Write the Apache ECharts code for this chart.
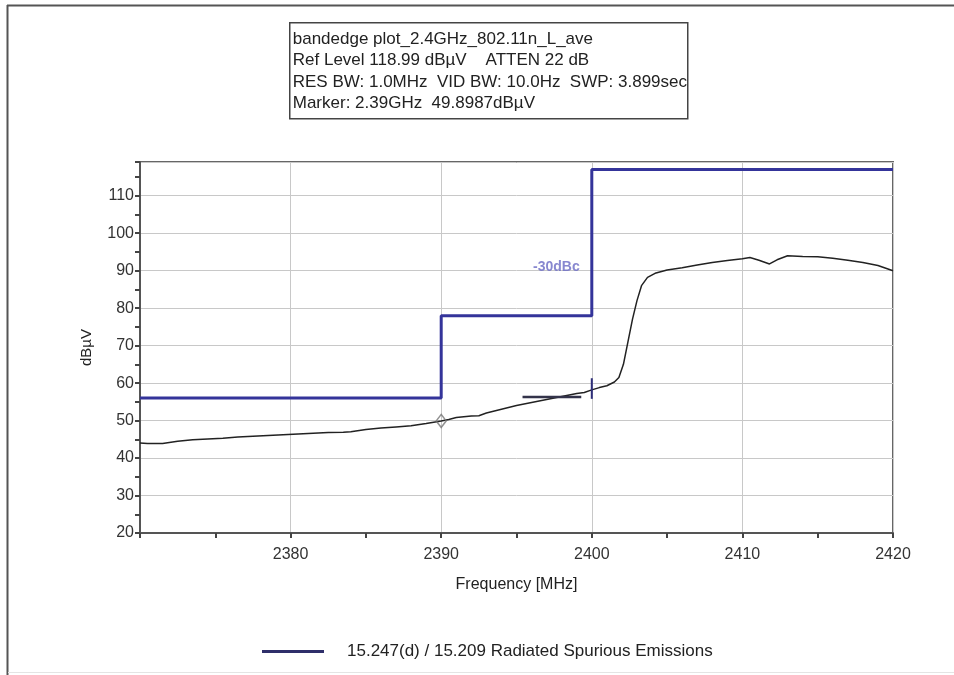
<!DOCTYPE html>
<html>
<head>
<meta charset="utf-8">
<script src="https://cdn.jsdelivr.net/npm/echarts@6/dist/echarts.min.js"></script>
<style>
html,body{margin:0;padding:0;background:#fff;}
#chart{width:954px;height:675px;}
</style>
</head>
<body>
<div id="chart"></div>
<script>
// ---- data ----
const headerLines = [
  'bandedge plot_2.4GHz_802.11n_L_ave',
  'Ref Level 118.99 dBµV    ATTEN 22 dB',
  'RES BW: 1.0MHz  VID BW: 10.0Hz  SWP: 3.899sec',
  'Marker: 2.39GHz  49.8987dBµV'
];
const xName = 'Frequency [MHz]';
const yName = 'dBµV';
const legendName = '15.247(d) / 15.209 Radiated Spurious Emissions';
const limitLabel = '-30dBc';
const limitLabelPos = [2399.2, 91];

const xRange = [2370, 2420];
const yRange = [20, 119];

const limitFreq = [2370, 2390, 2390, 2400, 2400, 2420];
const limitLevel = [56, 56, 78, 78, 117, 117];

const traceFreq = [2370.0,2370.5,2371.5,2372.5,2373.5,2374.5,2375.5,2376.5,2377.5,2378.5,2379.5,2380.5,2381.5,2382.5,2383.5,2384.0,2385.0,2386.0,2387.0,2388.0,2389.0,2390.0,2390.5,2391.0,2392.0,2392.5,2393.0,2394.0,2395.0,2396.0,2397.0,2398.0,2399.0,2399.5,2400.0,2400.5,2401.0,2401.5,2401.8,2402.1,2402.4,2402.7,2403.0,2403.3,2403.7,2404.2,2405.0,2406.0,2407.0,2408.0,2409.0,2410.0,2410.5,2411.1,2411.8,2412.3,2413.0,2414.0,2415.0,2416.0,2417.0,2418.0,2419.0,2420.0];
const traceLevel = [44.0,43.9,43.9,44.5,44.9,45.1,45.3,45.6,45.8,46.0,46.2,46.4,46.6,46.8,46.9,47.0,47.6,48.0,48.3,48.6,49.2,49.9,50.3,50.8,51.2,51.3,52.0,53.0,54.0,54.8,55.6,56.4,57.2,57.5,58.2,58.8,59.3,60.3,61.5,65.0,71.0,77.0,82.0,86.0,88.2,89.3,90.2,90.8,91.5,92.2,92.7,93.2,93.5,92.8,91.8,92.9,94.0,93.8,93.7,93.3,92.8,92.2,91.4,90.0];

const markerPoint = [2390, 49.9];
const deltaTickFreq = [2400, 2400];
const deltaTickLevel = [55.8, 61.3];
const refLineFreq = [2395.4, 2399.3];
const refLineLevel = [56.3, 56.3];

const zip = (a, b) => a.map((v, i) => [v, b[i]]);

// ---- chart ----
const chart = echarts.init(document.getElementById('chart'), null, {renderer: 'canvas'});
const FONT = '"Liberation Sans", Arial, sans-serif';

const option = {
  backgroundColor: '#fff',
  animation: false,
  textStyle: {fontFamily: FONT},
  grid: {left: 140, right: 61, top: 162, bottom: 142, show: true, borderColor: '#666', borderWidth: 2},
  legend: {
    data: [{name: legendName, icon: 'rect'}],
    left: 257, top: 638,
    itemWidth: 62, itemHeight: 3,
    textStyle: {fontSize: 17, color: '#222', fontFamily: FONT, padding: [0, 0, 0, 18]}
  },
  xAxis: {
    type: 'value', min: xRange[0], max: xRange[1], interval: 10,
    name: xName, nameLocation: 'middle', nameGap: 44,
    nameTextStyle: {fontSize: 16, color: '#222', fontFamily: FONT},
    axisLine: {lineStyle: {color: '#555', width: 2}},
    axisTick: {show: true, length: 5, lineStyle: {color: '#444', width: 2}},
    minorTick: {show: true, splitNumber: 2, length: 5, lineStyle: {color: '#444', width: 2}},
    axisLabel: {fontSize: 16, color: '#333', margin: 14, fontFamily: FONT,
      showMinLabel: false, formatter: v => String(v)},
    splitLine: {show: true, lineStyle: {color: '#c8c8c8', width: 1}}
  },
  yAxis: {
    type: 'value', min: yRange[0], max: yRange[1], interval: 10,
    name: yName, nameLocation: 'middle', nameGap: 46,
    nameTextStyle: {fontSize: 15, color: '#222', fontFamily: FONT},
    axisLine: {lineStyle: {color: '#555', width: 2}},
    axisTick: {show: true, length: 5, lineStyle: {color: '#444', width: 2}},
    minorTick: {show: true, splitNumber: 2, length: 5, lineStyle: {color: '#444', width: 2}},
    axisLabel: {fontSize: 16, color: '#333', margin: 6, fontFamily: FONT, showMaxLabel: false},
    splitLine: {show: true, lineStyle: {color: '#c8c8c8', width: 1}}
  },
  series: [
    {
      name: legendName, type: 'line', data: zip(limitFreq, limitLevel),
      showSymbol: false, symbol: 'none', color: '#2f2f6a',
      lineStyle: {color: '#34349a', width: 3}, z: 3
    },
    {
      name: 'trace', type: 'line', data: zip(traceFreq, traceLevel),
      showSymbol: false, symbol: 'none',
      lineStyle: {color: '#222', width: 1.5}, z: 4
    },
    {
      name: 'marker', type: 'scatter', data: [markerPoint],
      symbol: 'diamond', symbolSize: [10, 13],
      itemStyle: {color: 'rgba(255,255,255,0)', borderColor: '#777', borderWidth: 1.5}, z: 5
    },
    {
      name: 'deltaTick', type: 'line', data: zip(deltaTickFreq, deltaTickLevel),
      showSymbol: false, symbol: 'none',
      lineStyle: {color: '#2f2f7a', width: 2}, z: 5
    },
    {
      name: 'refLine', type: 'line', data: zip(refLineFreq, refLineLevel),
      showSymbol: false, symbol: 'none',
      lineStyle: {color: '#33334a', width: 2.5}, z: 5
    },
    {
      name: 'limitLabel', type: 'scatter', data: [limitLabelPos],
      symbolSize: 0,
      label: {show: true, position: 'left', distance: 0, formatter: limitLabel,
        color: '#6a6ac4', fontSize: 14, fontWeight: 'bold', fontFamily: FONT}, z: 6
    }
  ],
  graphic: [
    {type: 'line', shape: {x1: 7.5, y1: 5, x2: 7.5, y2: 675}, style: {stroke: '#555', lineWidth: 2}},
    {type: 'line', shape: {x1: 7, y1: 5.5, x2: 954, y2: 5.5}, style: {stroke: '#555', lineWidth: 2}},
    {type: 'line', shape: {x1: 8, y1: 672.5, x2: 954, y2: 672.5}, style: {stroke: '#e4e4e4', lineWidth: 1}},
    {
      type: 'group', left: 289, top: 22,
      children: [
        {type: 'rect', shape: {x: 0, y: 0, width: 398, height: 96},
          style: {fill: '#fff', stroke: '#444', lineWidth: 1.5}},
        {type: 'text', left: 3, top: 6,
          style: {text: headerLines.join('\n'), font: '17px ' + FONT, fill: '#222', lineHeight: 21.3}}
      ]
    }
  ]
};
chart.setOption(option);
</script>
</body>
</html>
